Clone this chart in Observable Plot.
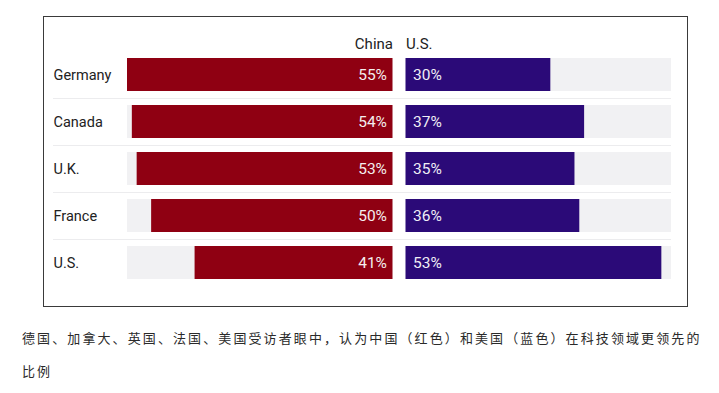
<!DOCTYPE html>
<html>
<head>
<meta charset="utf-8">
<script src="https://cdn.jsdelivr.net/npm/d3@7"></script>
<script src="https://cdn.jsdelivr.net/npm/@observablehq/plot@0.6"></script>
<style>
  html, body { margin: 0; padding: 0; background: #fff; }
  body { width: 719px; height: 393px; position: relative; overflow: hidden; }
  #box { position: absolute; left: 43px; top: 16px; width: 643px; height: 289px; border: 1px solid #3a3a3a; background: #fff; }
  #box svg { display: block; }
  #caption { position: absolute; left: 22px; top: 321px; width: 697px; font-family: "Noto Sans CJK SC", sans-serif; font-size: 13px; font-weight: 400; letter-spacing: 2.1px; line-height: 33px; color: #2a2a2a; }
</style>
</head>
<body>
<div id="box"></div>
<div id="caption">德国、加拿大、英国、法国、美国受访者眼中，认为中国（红色）和美国（蓝色）在科技领域更领先的<br>比例</div>
<script>
const countries = ["Germany", "Canada", "U.K.", "France", "U.S."];
const chinaValues = [55, 54, 53, 50, 41];
const usValues = [30, 37, 35, 36, 53];
const seriesNames = ["China", "U.S."];
const maxValue = 55;

const gap = 2.7;
const red = "#8f0012";
const purple = "#2b0a78";
const track = "#f1f1f3";

const rows = countries.map((c, i) => ({country: c, china: chinaValues[i], us: usValues[i]}));

const chart = Plot.plot({
  width: 643,
  height: 289,
  marginLeft: 83,
  marginRight: 16,
  marginTop: 34,
  marginBottom: 20,
  style: {fontFamily: "Roboto, sans-serif", fontSize: "14px", background: "#fff"},
  x: {domain: [-maxValue - gap, maxValue], axis: null},
  y: {domain: countries, paddingInner: 0.3, paddingOuter: 0.15, axis: null},
  marks: [
    Plot.ruleY(countries.slice(0, -1), {y: d => d, dy: 23.5, stroke: "#ececee", strokeWidth: 1, insetLeft: -74}),
    Plot.barX(countries, {y: d => d, x1: -gap, x2: -gap - maxValue, fill: track}),
    Plot.barX(countries, {y: d => d, x1: 0, x2: maxValue, fill: track}),
    Plot.barX(rows, {y: "country", x1: -gap, x2: d => -gap - d.china, fill: red}),
    Plot.barX(rows, {y: "country", x1: 0, x2: "us", fill: purple}),
    Plot.text(rows, {y: "country", x: -gap, text: d => d.china + "%", textAnchor: "end", dx: -6, fill: "#f4eeee", fontSize: 15.5}),
    Plot.text(rows, {y: "country", x: 0, text: d => d.us + "%", textAnchor: "start", dx: 7, fill: "#f0eef6", fontSize: 15.5}),
    Plot.text(rows, {y: "country", frameAnchor: "left", text: "country", textAnchor: "start", dx: -74, fill: "#222", fontSize: 14.5}),
    Plot.text([seriesNames[0]], {x: -gap, frameAnchor: "top", text: d => d, textAnchor: "end", dy: -13, fill: "#222", fontSize: 15}),
    Plot.text([seriesNames[1]], {x: 0, frameAnchor: "top", text: d => d, textAnchor: "start", dy: -13, fill: "#222", fontSize: 15})
  ]
});
document.getElementById("box").appendChild(chart);
</script>
</body>
</html>
